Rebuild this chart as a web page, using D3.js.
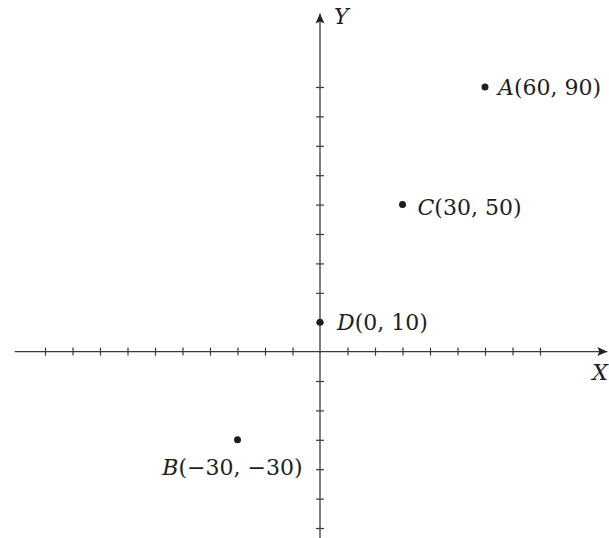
<!DOCTYPE html>
<html>
<head>
<meta charset="utf-8">
<script src="https://cdn.jsdelivr.net/npm/d3@7"></script>
<style>
  html, body { margin: 0; padding: 0; background: #fff; }
  svg { display: block; }
  .lbl { font-family: "DejaVu Serif", "Liberation Serif", serif; font-size: 22px; fill: #1e1e1e; }
  .lbl .it { font-style: italic; }
</style>
</head>
<body>
<svg id="chart" width="609" height="538"></svg>
<script>
// ---- data ----
const pointNames = ["A", "B", "C", "D"];
const pointX = [60, -30, 30, 0];
const pointY = [90, -30, 50, 10];
const xTicks = [-100, -90, -80, -70, -60, -50, -40, -30, -20, -10, 10, 20, 30, 40, 50, 60, 70, 80];
const yTicks = [-60, -50, -40, -30, -20, -10, 10, 20, 30, 40, 50, 60, 70, 80, 90];
const xAxisExtent = [-111, 104.5];
const yAxisExtent = [-66, 115];
const xAxisName = "X";
const yAxisName = "Y";

// ---- layout (label placement, not data) ----
const labelPlace = {
  A: { dx: 13, dy: 8, anchor: "start" },
  B: { dx: 65, dy: 35, anchor: "end" },
  C: { dx: 15, dy: 10, anchor: "start" },
  D: { dx: 17, dy: 8, anchor: "start" }
};

const svg = d3.select("#chart");
const x = d3.scaleLinear().domain([-100, 80]).range([45, 540]);
const y = d3.scaleLinear().domain([-60, 90]).range([528, 87]);
const axisColor = "#3a3a3a";

const defs = svg.append("defs");
defs.append("marker")
  .attr("id", "arrow")
  .attr("viewBox", "0 0 10 10")
  .attr("refX", 10).attr("refY", 5)
  .attr("markerWidth", 10).attr("markerHeight", 10)
  .attr("markerUnits", "userSpaceOnUse")
  .attr("orient", "auto")
  .append("path").attr("d", "M0,0.5 L10,5 L0,9.5 L2,5 Z").attr("fill", "#222");

// X axis
const gx = svg.append("g").attr("transform", `translate(0,${y(0)})`)
  .call(d3.axisBottom(x).tickValues(xTicks).tickSize(4).tickFormat(""));
gx.select(".domain").remove();
gx.selectAll(".tick line").attr("y1", -4).attr("y2", 4).attr("stroke", axisColor).attr("stroke-width", 1.2);
svg.append("line")
  .attr("x1", x(xAxisExtent[0])).attr("x2", x(xAxisExtent[1]))
  .attr("y1", y(0)).attr("y2", y(0))
  .attr("stroke", axisColor).attr("stroke-width", 1.3)
  .attr("marker-end", "url(#arrow)");

// Y axis
const gy = svg.append("g").attr("transform", `translate(${x(0)},0)`)
  .call(d3.axisLeft(y).tickValues(yTicks).tickSize(4).tickFormat(""));
gy.select(".domain").remove();
gy.selectAll(".tick line").attr("x1", -4).attr("x2", 4).attr("stroke", axisColor).attr("stroke-width", 1.2);
svg.append("line")
  .attr("x1", x(0)).attr("x2", x(0))
  .attr("y1", y(yAxisExtent[0])).attr("y2", y(yAxisExtent[1]))
  .attr("stroke", axisColor).attr("stroke-width", 1.3)
  .attr("marker-end", "url(#arrow)");

// axis names
svg.append("text").attr("class", "lbl")
  .attr("x", x(0) + 14).attr("y", y(yAxisExtent[1]) + 10)
  .append("tspan").attr("class", "it").text(yAxisName);
svg.append("text").attr("class", "lbl")
  .attr("x", 608).attr("y", y(0) + 28)
  .attr("text-anchor", "end")
  .append("tspan").attr("class", "it").text(xAxisName);

// points
const pts = pointNames.map((n, i) => ({ name: n, x: pointX[i], y: pointY[i] }));
svg.selectAll("circle.pt").data(pts).join("circle")
  .attr("class", "pt")
  .attr("cx", d => x(d.x)).attr("cy", d => y(d.y))
  .attr("r", 3.5).attr("fill", "#1e1e1e");

const fmt = v => (v < 0 ? "\u2212" + Math.abs(v) : String(v));
pts.forEach(d => {
  const p = labelPlace[d.name];
  const t = svg.append("text").attr("class", "lbl")
    .attr("x", x(d.x) + p.dx).attr("y", y(d.y) + p.dy)
    .attr("text-anchor", p.anchor);
  t.append("tspan").attr("class", "it").text(d.name);
  t.append("tspan").text(`(${fmt(d.x)}, ${fmt(d.y)})`);
});
</script>
</body>
</html>
